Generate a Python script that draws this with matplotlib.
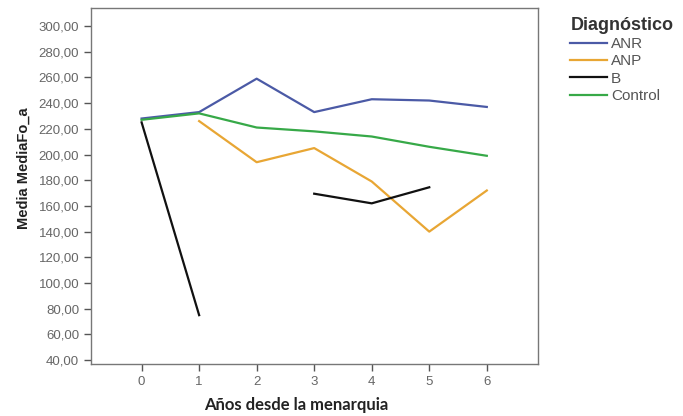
import matplotlib
matplotlib.use("Agg")
import matplotlib.pyplot as plt
import numpy as np
from matplotlib.ticker import FuncFormatter

years = [0, 1, 2, 3, 4, 5, 6]
anr = [228, 233, 259, 233, 243, 242, 237]
anp = [np.nan, 226, 194, 205, 179, 140, 172]
bul = [225, 75, np.nan, 169.5, 162, 174.5, np.nan]
control = [227, 232, 221, 218, 214, 206, 199]

series_names = ["ANR", "ANP", "B", "Control"]
series_values = [anr, anp, bul, control]
series_colors = ["#4b5aa6", "#e8a634", "#111111", "#37a948"]

plt.rcParams["font.family"] = ["Liberation Sans", "DejaVu Sans"]

fig = plt.figure(figsize=(6.83, 4.16), dpi=100)
ax = fig.add_axes([0.1332, 0.125, 0.6545, 0.8558])

for name, vals, color in zip(series_names, series_values, series_colors):
    ax.plot(years, vals, color=color, linewidth=1.6, label=name)

ax.set_xlim(-0.88, 6.89)
ax.set_ylim(37, 314)
ax.set_xticks(years)
ax.set_yticks(np.arange(40, 301, 20))
ax.yaxis.set_major_formatter(FuncFormatter(lambda v, _: f"{v:.2f}".replace(".", ",")))
ax.tick_params(axis="both", colors="#555555", labelcolor="#666666",
               labelsize=9.5, length=5, width=1)

for spine in ax.spines.values():
    spine.set_color("#777777")
    spine.set_linewidth(1)

ax.set_ylabel("Media MediaFo_a", fontsize=10.5, fontweight="bold", color="#222222")
ax.yaxis.set_label_coords(-0.135, 0.55)
ax.set_xlabel("Años desde la menarquia", fontsize=12, fontweight="bold",
              color="#222222", family=["Lato", "DejaVu Sans"])
ax.xaxis.set_label_coords(0.459, -0.093)

leg = fig.legend(loc="upper left", bbox_to_anchor=(0.826, 0.975), frameon=False,
                 title="Diagnóstico", fontsize=11, handlelength=2.4,
                 handletextpad=0.25, labelspacing=0.22, borderaxespad=0)
leg.get_title().set_fontsize(13)
leg.get_title().set_fontweight("bold")
leg.get_title().set_color("#333333")
leg._legend_box.align = "left"
for text in leg.get_texts():
    text.set_color("#555555")

fig.savefig("out.png", dpi=100)
